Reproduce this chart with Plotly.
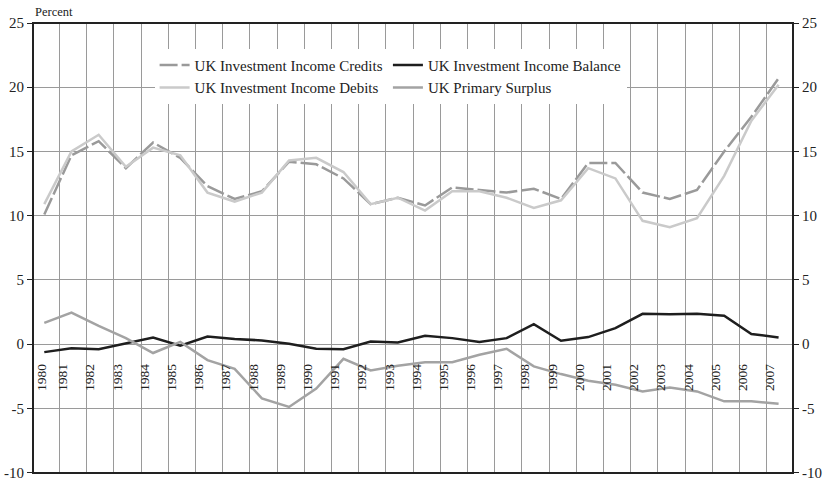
import plotly.graph_objects as go

years = list(range(1980, 2008))

credits = [10.1, 14.7, 15.8, 13.7, 15.7, 14.5, 12.3, 11.3, 11.9, 14.2,
           14.0, 12.9, 10.9, 11.4, 10.8, 12.2, 12.0, 11.8, 12.1, 11.3,
           14.1, 14.1, 11.8, 11.3, 12.0, 15.0, 17.7, 20.7]
debits = [10.9, 15.0, 16.3, 13.8, 15.3, 14.7, 11.8, 11.1, 11.8, 14.3,
          14.5, 13.4, 10.9, 11.4, 10.4, 11.9, 11.9, 11.4, 10.6, 11.2,
          13.7, 12.9, 9.6, 9.1, 9.8, 13.1, 17.4, 20.2]
balance = [-0.62, -0.31, -0.39, 0.08, 0.52, -0.12, 0.6, 0.4, 0.29, 0.03,
           -0.36, -0.39, 0.21, 0.13, 0.65, 0.47, 0.16, 0.47, 1.56, 0.26,
           0.55, 1.25, 2.36, 2.33, 2.36, 2.21, 0.79, 0.52]
surplus = [1.66, 2.45, 1.42, 0.47, -0.69, 0.18, -1.24, -1.92, -4.22, -4.89,
           -3.45, -1.14, -2.04, -1.68, -1.4, -1.4, -0.83, -0.36, -1.73, -2.33,
           -2.85, -3.16, -3.68, -3.37, -3.68, -4.45, -4.45, -4.64]

y_ticks = [-10, -5, 0, 5, 10, 15, 20, 25]
y_ticktext = ["-10", "-5", "0", "5", "10", "15", "20", "25"]

tick_years = [str(y) for y in years]
tick_pos = [1979.9] + [y - 0.32 for y in years[1:]]
grid_pos = [y + 0.56 for y in years[:-1]]

FONT = "Liberation Serif, Times New Roman, DejaVu Serif, serif"

fig = go.Figure()
fig.add_trace(go.Scatter(x=years, y=credits, mode="lines", name="UK Investment Income Credits",
                         legend="legend",
                         line=dict(color="#9a9a9a", width=2.5, dash="18px,4px")))
fig.add_trace(go.Scatter(x=years, y=balance, mode="lines", name="UK Investment Income Balance",
                         legend="legend2",
                         line=dict(color="#1e1e1e", width=2.5)))
fig.add_trace(go.Scatter(x=years, y=debits, mode="lines", name="UK Investment Income Debits",
                         legend="legend",
                         line=dict(color="#cacaca", width=2.5)))
fig.add_trace(go.Scatter(x=years, y=surplus, mode="lines", name="UK Primary Surplus",
                         legend="legend2",
                         line=dict(color="#a3a3a3", width=2.5)))
fig.add_trace(go.Scatter(x=[], y=[], yaxis="y2", showlegend=False, hoverinfo="skip"))

leg_common = dict(orientation="v", y=0.943, xanchor="left", yanchor="top",
                  bgcolor="white", borderwidth=0, tracegroupgap=0,
                  font=dict(family=FONT, size=15, color="#222"))

fig.update_layout(
    width=823, height=481,
    margin=dict(l=33, r=30, t=23, b=8, autoexpand=False),
    paper_bgcolor="white", plot_bgcolor="white",
    font=dict(family=FONT, color="#222"),
    showlegend=True,
    legend=dict(x=0.16, **leg_common),
    legend2=dict(x=0.467, **leg_common),
    xaxis=dict(range=[1979.585, 2007.53], anchor="free", position=0.2858,
               tickmode="array", tickvals=tick_pos, ticktext=tick_years, tickangle=-90,
               tickfont=dict(family=FONT, size=13.5, color="#222"),
               showgrid=False, showline=False, zeroline=False, ticks="",
               ticklabelstandoff=16, automargin=False,
               minor=dict(tickmode="array", tickvals=grid_pos, showgrid=True,
                          gridcolor="#9a9a9a", gridwidth=1, ticks="")),
    yaxis=dict(range=[-10.03, 25], tickmode="array", tickvals=y_ticks, ticktext=y_ticktext,
               showgrid=True, gridcolor="#9a9a9a", automargin=False,
               gridwidth=1, zeroline=False, ticks="outside", ticklen=5, tickcolor="#222",
               tickfont=dict(family=FONT, size=15, color="#222"), showline=False),
    yaxis2=dict(range=[-10.03, 25], tickmode="array", tickvals=y_ticks, ticktext=y_ticktext,
                overlaying="y", side="right", automargin=False,
                showgrid=False, zeroline=False, ticks="outside", ticklen=5, tickcolor="#222",
                tickfont=dict(family=FONT, size=15, color="#222"), showline=False),
    shapes=[dict(type="rect", xref="paper", yref="paper", x0=0, x1=1, y0=0, y1=1,
                 line=dict(color="#222", width=2), layer="above")],
    annotations=[dict(text="Percent", xref="paper", yref="paper", x=0, y=1.024,
                      xanchor="left", yanchor="middle", showarrow=False,
                      font=dict(family=FONT, size=12.5, color="#222"))],
)

fig.write_html("out.html", config={"displayModeBar": False},
               post_script="document.body.style.margin='0';")
